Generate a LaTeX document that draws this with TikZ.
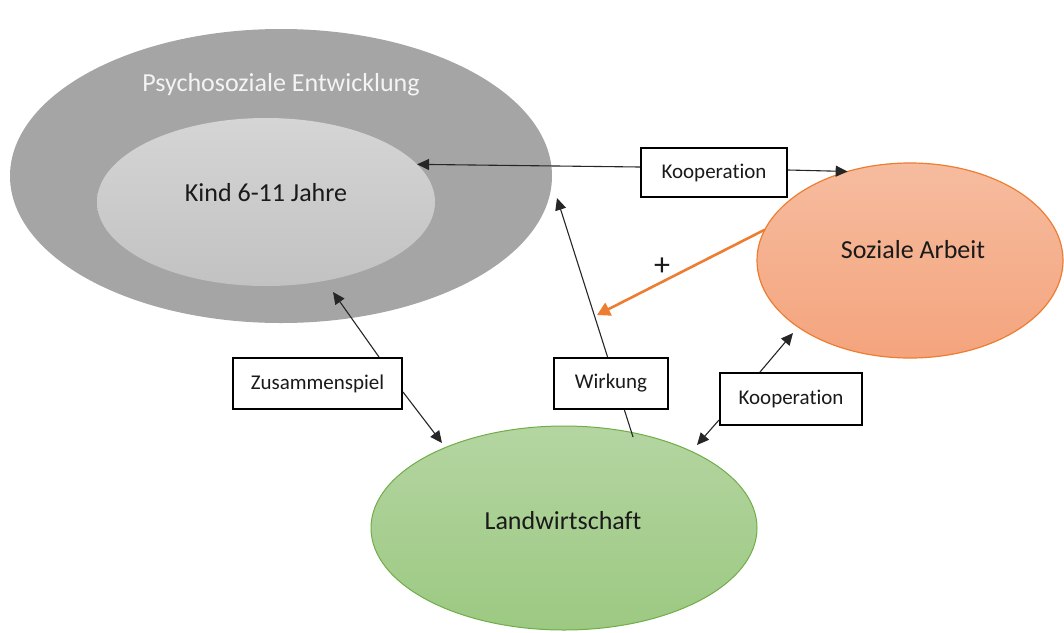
\documentclass[tikz,border=0pt]{standalone}
\usepackage{fontspec}
\setmainfont{Carlito}[Ligatures=NoCommon]
\usetikzlibrary{arrows.meta,calc,shapes.geometric}
\definecolor{outerg}{HTML}{A5A5A5}
\definecolor{innertop}{HTML}{D5D5D5}
\definecolor{innerbot}{HTML}{C2C2C2}
\definecolor{soztop}{HTML}{F6BC9F}
\definecolor{sozbot}{HTML}{F4A47D}
\definecolor{sozline}{HTML}{ED7D31}
\definecolor{landtop}{HTML}{B4D5A1}
\definecolor{landbot}{HTML}{9CC982}
\definecolor{landline}{HTML}{70AD47}
\definecolor{titlecol}{HTML}{F4F4F4}
\definecolor{txt}{HTML}{1A1A1A}
\begin{document}
\begin{tikzpicture}[x=1pt,y=-1pt,
  ell/.style={ellipse, inner sep=0pt, outer sep=0pt},
  biglbl/.style={font=\fontsize{26}{30}\selectfont, text=txt, inner sep=0pt},
  boxnode/.style={draw=black, line width=2pt, fill=white, inner sep=0pt,
    font=\fontsize{21}{25}\selectfont, text=txt},
  con/.style={line width=1.1pt, draw=black!85, -{Triangle[length=12pt,width=11pt]}},
  orangearrow/.style={line width=2.6pt, draw=sozline, -{Triangle[length=13pt,width=14pt]}}
]
\useasboundingbox (0,0) rectangle (1064,632);

% ellipses
\node[ell, fill=outerg, minimum width=542pt, minimum height=294pt] (outer) at (281,176) {};
\node[ell, top color=innertop, bottom color=innerbot, minimum width=338pt, minimum height=168pt] (inner) at (266,202) {};
\node[ell, top color=soztop, bottom color=sozbot, draw=sozline, line width=1.2pt, minimum width=306pt, minimum height=195pt] (soz) at (910,260.5) {};
\node[ell, top color=landtop, bottom color=landbot, draw=landline, line width=1pt, minimum width=386pt, minimum height=204pt] (land) at (564,528) {};

% ellipse texts
\node[biglbl, text=titlecol] (title) at (281,85) {Psychosoziale Entwicklung};
\node[biglbl] (kind) at (266,193) {Kind 6-11 Jahre};
\node[biglbl] (sozt) at (913,250) {Soziale Arbeit};
\node[biglbl] (landt) at (563,521) {Landwirtschaft};

% Wirkung line (behind its box)
\draw[con] ($(land.center)+(69,-91)$) -- ($(outer.center)+(276,22)$);

% boxes
\node[boxnode, minimum width=146pt, minimum height=49pt] (koop1) at (714,172.5) {Kooperation};
\node[boxnode, minimum width=169pt, minimum height=51pt] (zus) at (317.5,383.5) {Zusammenspiel};
\node[boxnode, minimum width=114pt, minimum height=51pt] (wirk) at (611,383.5) {Wirkung};
\node[boxnode, minimum width=142pt, minimum height=52pt] (koop2) at (791,399) {Kooperation};

% connectors
\draw[con] ($(koop1.west)+(0,-5.5)$) -- (inner.14.7);
\draw[con] ($(koop1.east)+(0,-2.5)$) -- (soz.125.9);
\draw[con] ($(zus.north)+(61.5,0)$) -- ($(inner.center)+(67,90)$);
\draw[con] ($(zus.east)+(0,8.5)$) -- ($(land.center)+(-122,-85)$);
\draw[con] ($(koop2.north)+(-31,0)$) -- ($(soz.center)+(-117,72.5)$);
\draw[con] ($(koop2.south west)+(0,-6)$) -- ($(land.center)+(133,-83)$);
\draw[orangearrow] (soz.168.3) -- ($(wirk.north)+(-14,-42)$);
\node[font=\fontsize{32}{36}\selectfont, text=txt, inner sep=0pt] (plus) at (662,267) {+};
\end{tikzpicture}
\end{document}
